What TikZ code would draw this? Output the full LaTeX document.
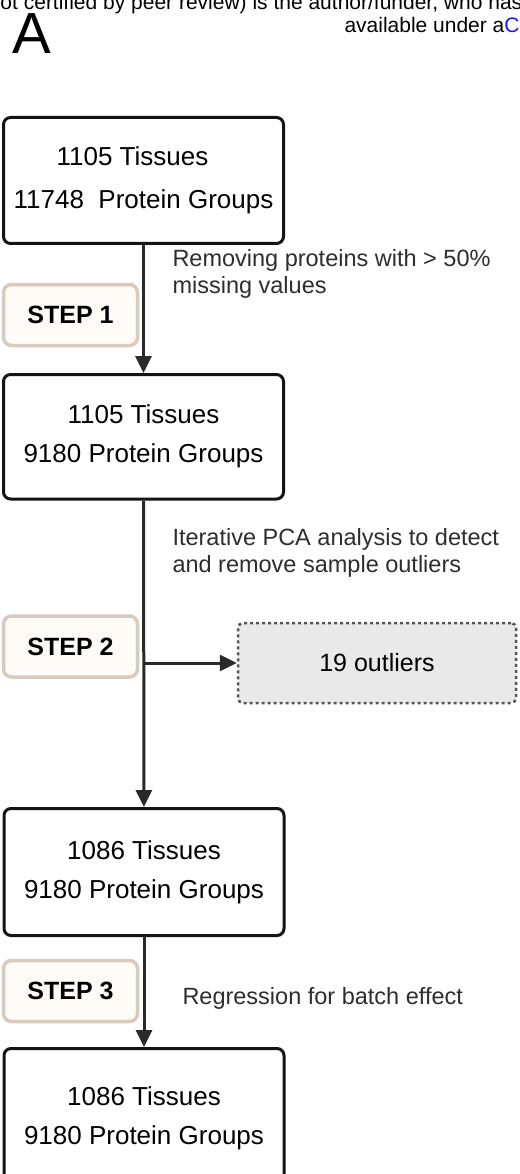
\documentclass[tikz,border=0pt]{standalone}
\usepackage{fontspec}
\setmainfont{Liberation Sans}
\usetikzlibrary{arrows.meta, positioning}
\definecolor{cink}{HTML}{141414}
\definecolor{cline}{HTML}{2A2A2A}
\definecolor{ctext}{HTML}{2E2E2E}
\definecolor{ctan}{HTML}{D9CAC0}
\definecolor{ccream}{HTML}{FFFBF7}
\definecolor{cgrey}{HTML}{555555}
\definecolor{cfog}{HTML}{E9E9E9}
\definecolor{clink}{HTML}{1A1AFF}
\tikzset{
  every picture/.style={line width=3pt},
  box/.style={draw=cink, fill=white, rounded corners=7pt, align=center, inner sep=0pt,
    minimum width=280pt, font=\fontsize{26}{39}\selectfont},
  stepbox/.style={draw=ctan, fill=ccream, rounded corners=8pt, line width=3.5pt,
    minimum width=134pt, minimum height=61pt, font=\fontsize{25}{30}\selectfont\bfseries},
  outbox/.style={draw=cgrey, fill=cfog, rounded corners=5pt, line width=2.5pt,
    dash pattern=on 3pt off 3pt, minimum width=278pt, minimum height=80pt,
    font=\fontsize{25}{30}\selectfont},
  arrow/.style={-{Triangle[length=17pt, width=16pt]}, draw=cline, line width=3pt},
  note/.style={text=ctext, align=left, anchor=base west, inner sep=0pt,
    font=\fontsize{23.5}{27}\selectfont},
  header/.style={anchor=base west, inner sep=0pt, font=\fontsize{21}{24}\selectfont},
}
\begin{document}
\begin{tikzpicture}[x=1pt, y=-1pt]
  \clip (0,0) rectangle (519,1174);
  \fill[white] (0,0) rectangle (519,1174);

  % page header and panel letter
  \node[header] (hdra) at (-1,10) {ot certified by peer review) is the author/funder, who has};
  \node[header] (hdrb) at (343,33) {available under a\textcolor{clink}{C}};
  \node[anchor=base west, inner sep=0pt, font=\fontsize{58}{60}\selectfont] (panel) at (11,54) {A};

  % the data at each stage
  \node[box, minimum height=126pt, font=\fontsize{26}{43}\selectfont] (raw) at (143.5,180.5)
    {1105 Tissues\hspace*{22pt}\\11748~~Protein Groups};
  \node[box, minimum height=124.5pt] (filt) at (143.5,436.75) {1105 Tissues\\9180 Protein Groups};
  \node[box, minimum height=127pt] (clean) at (144,872) {1086 Tissues\\9180 Protein Groups};
  \node[box, minimum height=140pt] (corr) at (144,1118.5) {1086 Tissues\\9180 Protein Groups};

  % steps
  \node[stepbox] (s1) at (70.5,315) {STEP 1};
  \node[stepbox] (s2) at (70.5,646.5) {STEP 2};
  \node[stepbox] (s3) at (70.5,991) {STEP 3};
  \node[outbox] (outl) at (377,663) {19 outliers};

  \node[note] (n1) at (171,293) {Removing proteins with > 50\%\\missing values};
  \node[note] (n2) at (171,572) {Iterative PCA analysis to detect\\and remove sample outliers};
  \node[note] (n3) at (181,1004) {Regression for batch effect};

  \draw[arrow] (raw) -- (filt);
  \draw[arrow] (filt) -- (clean);
  \draw[arrow] (clean) -- (corr);
  \draw[arrow] (filt.south |- outl.west) -- (outl.west);
\end{tikzpicture}
\end{document}
